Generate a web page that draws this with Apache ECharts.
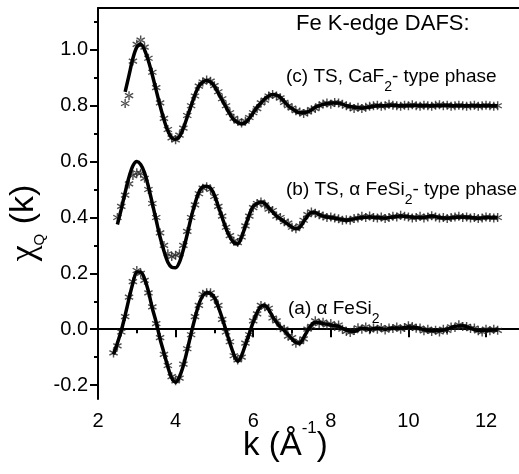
<!DOCTYPE html>
<html>
<head>
<meta charset="utf-8">
<script src="https://cdn.jsdelivr.net/npm/echarts@6/dist/echarts.min.js"></script>
<style>
  html, body { margin: 0; padding: 0; background: #fff; }
  #chart { width: 519px; height: 474px; }
</style>
</head>
<body>
<div id="chart"></div>
<script>
// k values of the fitted curves
const kFit = [
    2.4, 2.5, 2.6, 2.7, 2.8, 2.9, 3.0, 3.1, 3.2, 3.3,
    3.4, 3.5, 3.6, 3.7, 3.8, 3.9, 4.0, 4.1, 4.2, 4.3,
    4.4, 4.5, 4.6, 4.7, 4.8, 4.9, 5.0, 5.1, 5.2, 5.3,
    5.4, 5.5, 5.6, 5.7, 5.8, 5.9, 6.0, 6.1, 6.2, 6.3,
    6.4, 6.5, 6.6, 6.7, 6.8, 6.9, 7.0, 7.1, 7.2, 7.3,
    7.4, 7.5, 7.6, 7.7, 7.8, 7.9, 8.0,
    8.2, 8.4, 8.6, 8.8, 9.0, 9.2, 9.4, 9.6, 9.8, 10.0,
    10.2, 10.4, 10.6, 10.8, 11.0, 11.2, 11.4, 11.6, 11.8, 12.0,
    12.2, 12.3
];
const fitA = [
    -0.09, -0.05, -0.005, 0.05, 0.11, 0.165, 0.205, 0.205, 0.18, 0.135,
    0.075, 0.025, -0.035, -0.085, -0.135, -0.175, -0.19, -0.17, -0.13, -0.075,
    -0.015, 0.04, 0.09, 0.12, 0.13, 0.128, 0.113, 0.08, 0.04, -0.005,
    -0.05, -0.09, -0.115, -0.095, -0.055, -0.015, 0.025, 0.06, 0.082, 0.085,
    0.07, 0.045, 0.025, 0.008, -0.005, -0.02, -0.035, -0.048, -0.05, -0.03,
    -0.005, 0.015, 0.025, 0.024, 0.02, 0.018, 0.015,
    0.01, -0.003, -0.008, 0.003, 0.0, 0.003, 0.0, 0.004, 0.004, 0.008,
    0.006, -0.002, -0.006, -0.006, 0.0, 0.01, 0.012, 0.004, -0.005, -0.005,
    -0.003, -0.003
];
const fitB = [
    null, 0.375, 0.43, 0.49, 0.545, 0.585, 0.60, 0.59, 0.56, 0.51,
    0.45, 0.39, 0.33, 0.28, 0.24, 0.222, 0.22, 0.24, 0.285, 0.34,
    0.40, 0.45, 0.49, 0.51, 0.512, 0.505, 0.48, 0.44, 0.40, 0.36,
    0.33, 0.31, 0.305, 0.33, 0.37, 0.41, 0.44, 0.45, 0.455, 0.45,
    0.435, 0.42, 0.405, 0.395, 0.385, 0.375, 0.365, 0.36, 0.365, 0.385,
    0.405, 0.418, 0.418, 0.41, 0.405, 0.402, 0.40,
    0.395, 0.39, 0.395, 0.40, 0.402, 0.40, 0.398, 0.402, 0.405, 0.403,
    0.40, 0.40, 0.405, 0.40, 0.398, 0.40, 0.402, 0.40, 0.397, 0.40,
    0.40, 0.40
];
const fitC = [
    null, null, null, 0.85, 0.91, 0.97, 1.01, 1.02, 1.0, 0.96,
    0.91, 0.855, 0.80, 0.75, 0.71, 0.685, 0.68, 0.69, 0.72, 0.76,
    0.80, 0.84, 0.87, 0.885, 0.89, 0.885, 0.87, 0.845, 0.82, 0.795,
    0.77, 0.75, 0.74, 0.735, 0.74, 0.755, 0.775, 0.795, 0.81, 0.825,
    0.835, 0.84, 0.838, 0.83, 0.815, 0.80, 0.79, 0.78, 0.775, 0.775,
    0.778, 0.785, 0.795, 0.80, 0.805, 0.808, 0.81,
    0.81, 0.80, 0.795, 0.792, 0.795, 0.80, 0.80, 0.802, 0.80, 0.80,
    0.802, 0.80, 0.80, 0.80, 0.802, 0.80, 0.80, 0.80, 0.80, 0.80,
    0.80, 0.80
];

// measured points (stars)
const kData = [
    2.4, 2.5, 2.6, 2.7, 2.8, 2.9, 3.0, 3.1, 3.2, 3.3,
    3.4, 3.5, 3.6, 3.7, 3.8, 3.9, 4.0, 4.1, 4.2, 4.3,
    4.4, 4.5, 4.6, 4.7, 4.8, 4.9, 5.0, 5.1, 5.2, 5.3,
    5.4, 5.5, 5.6, 5.7, 5.8, 5.9, 6.0, 6.1, 6.2, 6.3,
    6.4, 6.5, 6.6, 6.7, 6.8, 6.9, 7.0, 7.1, 7.2, 7.3,
    7.4, 7.5, 7.6, 7.7, 7.8, 7.9, 8.0, 8.1, 8.2, 8.3,
    8.4, 8.5, 8.6, 8.7, 8.8, 8.9, 9.0, 9.1, 9.2, 9.3,
    9.4, 9.5, 9.6, 9.7, 9.8, 9.9, 10.0, 10.1, 10.2, 10.3,
    10.4, 10.5, 10.6, 10.7, 10.8, 10.9, 11.0, 11.1, 11.2, 11.3,
    11.4, 11.5, 11.6, 11.7, 11.8, 11.9, 12.0, 12.1, 12.2, 12.3
];
const dataA = [
    -0.085, -0.06, -0.01, 0.045, 0.115, 0.17, 0.21, 0.2, 0.175, 0.13,
    0.08, 0.02, -0.03, -0.09, -0.13, -0.17, -0.185, -0.175, -0.125, -0.07,
    -0.02, 0.045, 0.085, 0.125, 0.13, 0.13, 0.11, 0.085, 0.035, -0.01,
    -0.045, -0.095, -0.11, -0.1, -0.05, -0.02, 0.03, 0.055, 0.085, 0.08,
    0.075, 0.04, 0.03, 0.005, 0.0, -0.025, -0.03, -0.05, -0.045, -0.035,
    0.0, 0.01, 0.03, 0.02, 0.025, 0.015, 0.02, 0.01, 0.015, 0.0,
    -0.008, -0.012, -0.005, 0.005, 0.0, 0.008, -0.002, 0.004, 0.0, 0.006,
    -0.003, 0.004, 0.002, 0.008, 0.0, 0.006, 0.012, 0.01, 0.003, 0.004,
    -0.006, 0.0, -0.008, -0.004, -0.01, 0.0, -0.004, 0.008, 0.006, 0.016,
    0.01, 0.01, 0.002, 0.004, -0.006, -0.01, 0.0, -0.006, 0.0, -0.004
];
const dataB = [
    null, 0.40, 0.44, 0.48, 0.52, 0.55, 0.56, 0.558, 0.54, 0.50,
    0.45, 0.40, 0.345, 0.30, 0.27, 0.26, 0.265, 0.27, 0.30, 0.35,
    0.40, 0.445, 0.485, 0.505, 0.51, 0.50, 0.475, 0.44, 0.405, 0.365,
    0.335, 0.315, 0.31, 0.33, 0.37, 0.405, 0.435, 0.45, 0.455, 0.445,
    0.43, 0.425, 0.405, 0.40, 0.385, 0.38, 0.365, 0.36, 0.37, 0.39,
    0.41, 0.42, 0.415, 0.41, 0.405, 0.40, 0.402, 0.398, 0.395, 0.39,
    0.392, 0.39, 0.396, 0.398, 0.404, 0.40, 0.405, 0.40, 0.398, 0.402,
    0.396, 0.40, 0.404, 0.402, 0.408, 0.404, 0.402, 0.398, 0.40, 0.404,
    0.398, 0.402, 0.406, 0.402, 0.398, 0.40, 0.396, 0.40, 0.402, 0.404,
    0.40, 0.402, 0.398, 0.40, 0.396, 0.398, 0.402, 0.40, 0.398, 0.40
];
const dataC = [
    null, null, null, 0.808, 0.836, 0.96, 1.02, 1.035, 1.01, 0.97,
    0.92, 0.865, 0.81, 0.755, 0.715, 0.685, 0.678, 0.695, 0.72, 0.765,
    0.80, 0.835, 0.87, 0.885, 0.892, 0.888, 0.872, 0.85, 0.825, 0.80,
    0.775, 0.755, 0.745, 0.738, 0.745, 0.758, 0.775, 0.79, 0.81, 0.82,
    0.835, 0.84, 0.835, 0.828, 0.812, 0.80, 0.792, 0.782, 0.778, 0.772,
    0.778, 0.786, 0.79, 0.80, 0.806, 0.81, 0.805, 0.812, 0.81, 0.805,
    0.80, 0.796, 0.79, 0.795, 0.79, 0.795, 0.798, 0.80, 0.802, 0.798,
    0.80, 0.805, 0.802, 0.80, 0.798, 0.802, 0.80, 0.804, 0.80, 0.798,
    0.802, 0.80, 0.798, 0.802, 0.804, 0.80, 0.802, 0.798, 0.80, 0.802,
    0.80, 0.798, 0.80, 0.802, 0.798, 0.80, 0.802, 0.80, 0.798, 0.80
];

const xMajor = [2, 4, 6, 8, 10, 12];
const xMinor = [3, 5, 7, 9, 11];
const yMajor = [-0.2, 0, 0.2, 0.4, 0.6, 0.8, 1.0];
const yMinor = [-0.1, 0.1, 0.3, 0.5, 0.7, 0.9, 1.1];

const FONT = '"Liberation Sans", Arial, sans-serif';
const SERIF = '"Liberation Serif", "Times New Roman", serif';
const STAR = 'path://M-0.15,-1L0.15,-1L0.15,1L-0.15,1Z' +
    'M-0.941,-0.37L0.791,0.63L0.941,0.37L-0.791,-0.63Z' +
    'M-0.791,0.63L0.941,-0.37L0.791,-0.63L-0.941,0.37Z';

const pairs = (ks, vs) => {
    const out = [];
    ks.forEach((k, i) => {
        if (vs[i] !== null) out.push([k, vs[i]]);
    });
    return out;
};

const starSeries = (vals) => ({
    type: 'scatter',
    data: pairs(kData, vals),
    symbol: STAR,
    symbolSize: 9,
    itemStyle: { color: '#222' },
    z: 2
});

const fitSeries = (vals) => ({
    type: 'line',
    data: pairs(kFit, vals),
    smooth: 0.3,
    showSymbol: false,
    lineStyle: { color: '#000', width: 3.5 },
    z: 3
});

const axisLineStyle = { color: '#000', width: 2 };

const xBase = {
    type: 'value', min: 2, max: 12.85,
    splitLine: { show: false }
};
const yBase = {
    type: 'value', min: -0.25, max: 1.15,
    splitLine: { show: false }
};

const txt = (size, lh, extra) => ({
    fontSize: size, lineHeight: lh, fontFamily: FONT, color: '#000', verticalAlign: 'top', ...extra
});

const chart = echarts.init(document.getElementById('chart'));

const option = {
    animation: false,
    backgroundColor: '#fff',
    grid: { left: 98, top: 8, right: 0, bottom: 75 },
    xAxis: [
        {
            ...xBase, position: 'bottom',
            axisLine: { lineStyle: axisLineStyle },
            axisTick: { customValues: xMajor, length: 8, lineStyle: axisLineStyle },
            axisLabel: { customValues: xMajor, color: '#000', fontSize: 20, fontFamily: FONT, margin: 12 }
        },
        {
            ...xBase, position: 'bottom',
            axisLine: { show: false },
            axisTick: { customValues: xMinor, length: 4, lineStyle: axisLineStyle },
            axisLabel: { show: false }
        },
        {
            ...xBase, position: 'top',
            axisLine: { lineStyle: axisLineStyle },
            axisTick: { show: false },
            axisLabel: { show: false }
        }
    ],
    yAxis: [
        {
            ...yBase, position: 'left',
            axisLine: { show: true, lineStyle: axisLineStyle },
            axisTick: { show: true, customValues: yMajor, length: 8, lineStyle: axisLineStyle },
            axisLabel: {
                customValues: yMajor, color: '#000', fontSize: 20, fontFamily: FONT, margin: 10,
                formatter: (v) => v.toFixed(1)
            }
        },
        {
            ...yBase, position: 'left',
            axisLine: { show: false },
            axisTick: { show: true, customValues: yMinor, length: 4, lineStyle: axisLineStyle },
            axisLabel: { show: false }
        }
    ],
    series: [
        starSeries(dataA), starSeries(dataB), starSeries(dataC),
        fitSeries(fitA), fitSeries(fitB), fitSeries(fitC)
    ],
    graphic: [
        {
            type: 'text', x: 296, y: 13.4,
            style: {
                text: '{t|Fe K-edge DAFS:}', verticalAlign: 'top',
                rich: { t: txt(22, 24) }
            }
        },
        {
            type: 'text', x: 286, y: 67.6,
            style: {
                text: '{t|(c) TS, CaF}{s|2}{t|- type phase}', verticalAlign: 'top',
                rich: { t: txt(19, 22), s: txt(14, 14, { padding: [13, 0, 0, 0] }) }
            }
        },
        {
            type: 'text', x: 286, y: 180.6,
            style: {
                text: '{t|(b) TS, α FeSi}{s|2}{t|- type phase}', verticalAlign: 'top',
                rich: { t: txt(19, 22), s: txt(14, 14, { padding: [13, 0, 0, 0] }) }
            }
        },
        {
            type: 'text', x: 288, y: 299.6,
            style: {
                text: '{t|(a) α FeSi}{s|2}', verticalAlign: 'top',
                rich: { t: txt(19, 22), s: txt(14, 14, { padding: [13, 0, 0, 0] }) }
            }
        },
        {
            // x axis title
            type: 'text', x: 243, y: 420,
            style: {
                text: '{a|k (Å}{s|-1}{a|)}', verticalAlign: 'top',
                rich: { a: txt(33, 36, { padding: [9, 0, 0, 0] }), s: txt(17, 18) }
            }
        },
        {
            // y axis title
            type: 'text', x: 7, y: 223, rotation: Math.PI / 2,
            style: {
                text: '{c|χ}{q|Q}{a| (k)}', align: 'center', verticalAlign: 'top',
                rich: {
                    c: txt(36, 36, { fontFamily: SERIF }),
                    a: txt(34, 36),
                    q: txt(15, 16, { padding: [25, 0, 0, 0] })
                }
            }
        }
    ]
};

chart.setOption(option);
</script>
</body>
</html>
